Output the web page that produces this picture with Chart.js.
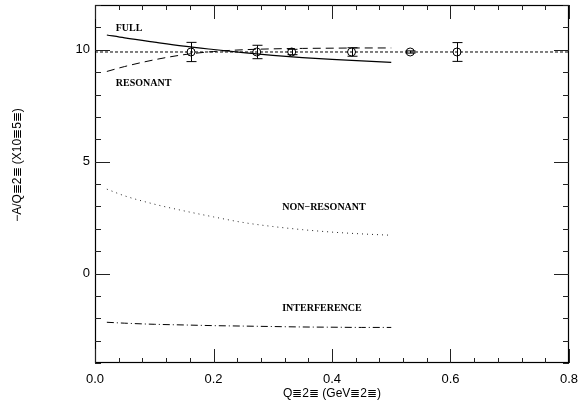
<!DOCTYPE html>
<html><head><meta charset="utf-8">
<script src="https://cdn.jsdelivr.net/npm/chart.js@4/dist/chart.umd.min.js"></script>
<style>html,body{margin:0;padding:0;background:#fff}#wrap{width:579px;height:403px}</style>
</head><body><div id="wrap"><canvas id="c" width="579" height="403"></canvas></div>
<script>
// ---- data ----
const curveQ2 = [0.02, 0.05, 0.10, 0.15, 0.20, 0.25, 0.30, 0.35, 0.40, 0.45, 0.50];
const fullVals = [10.66, 10.53, 10.34, 10.16, 10.01, 9.87, 9.75, 9.65, 9.57, 9.50, 9.44];
const resonantVals = [9.03, 9.25, 9.55, 9.78, 9.92, 10.00, 10.04, 10.06, 10.07, 10.08, 10.08];
const nonResonantVals = [3.77, 3.47, 3.10, 2.80, 2.53, 2.28, 2.10, 1.96, 1.85, 1.77, 1.71];
const interferenceVals = [-2.18, -2.22, -2.27, -2.30, -2.33, -2.35, -2.37, -2.39, -2.40, -2.41, -2.41];
const measQ2 = [0.162, 0.273, 0.332, 0.433, 0.532, 0.611];
const measVals = [9.9, 9.9, 9.9, 9.9, 9.9, 9.9];
const measErr = [0.43, 0.30, 0.12, 0.19, 0.05, 0.42];
const refLevel = [9.9];
const xTicks = [0.0, 0.2, 0.4, 0.6, 0.8];
const yTicks = [0, 5, 10];
const curveLabels = ['FULL', 'RESONANT', 'NON\u2212RESONANT', 'INTERFERENCE'];
const xTitle = 'Q\u22632\u2263 (GeV\u22632\u2263)';
const yTitle = '\u2212A/Q\u22632\u2263 (X10\u22635\u2263)';

const pts = (xs, ys) => xs.map((x, i) => ({x: x, y: ys[i]}));

const framePlugin = {
  id: 'frame',
  afterDatasetsDraw(chart) {
    const ctx = chart.ctx, a = chart.chartArea;
    const xs = chart.scales.x, ys = chart.scales.y;
    ctx.save();
    // error bars
    ctx.strokeStyle = '#000'; ctx.lineWidth = 1;
    measQ2.forEach((q, i) => {
      const px = Math.round(xs.getPixelForValue(q)) + 0.5;
      const top = ys.getPixelForValue(measVals[i] + measErr[i]);
      const bot = ys.getPixelForValue(measVals[i] - measErr[i]);
      ctx.beginPath();
      ctx.moveTo(px, top); ctx.lineTo(px, bot);
      ctx.moveTo(px - 5, top); ctx.lineTo(px + 5, top);
      ctx.moveTo(px - 5, bot); ctx.lineTo(px + 5, bot);
      ctx.stroke();
    });
    // frame
    ctx.strokeStyle = '#000'; ctx.lineWidth = 1.2;
    ctx.strokeRect(a.left + 0.5, a.top + 0.5, a.right - a.left - 1, a.bottom - a.top - 1);
    // ticks
    ctx.lineWidth = 1; ctx.strokeStyle = '#222';
    ctx.beginPath();
    for (let k = 0; k <= 20; k++) {
      const v = k * 0.04;
      const major = xTicks.some(t => Math.abs(t - v) < 1e-6);
      const len = major ? 14 : 5;
      const px = Math.round(xs.getPixelForValue(v)) + 0.5;
      ctx.moveTo(px, a.bottom); ctx.lineTo(px, a.bottom - len);
      ctx.moveTo(px, a.top); ctx.lineTo(px, a.top + len);
    }
    for (let v = Math.ceil(ys.min); v <= ys.max; v++) {
      const major = yTicks.includes(v);
      const len = major ? 15 : 6;
      const py = Math.round(ys.getPixelForValue(v)) + 0.5;
      ctx.moveTo(a.left, py); ctx.lineTo(a.left + len, py);
      ctx.moveTo(a.right, py); ctx.lineTo(a.right - len, py);
    }
    ctx.stroke();
    // curve labels
    ctx.fillStyle = '#000';
    ctx.font = 'bold 10px "Liberation Serif"';
    ctx.textBaseline = 'middle'; ctx.textAlign = 'left';
    const anchors = [[0.035, 10.95], [0.035, 8.48], [0.316, 2.95], [0.316, -1.55]];
    curveLabels.forEach((t, i) => {
      ctx.fillText(t, xs.getPixelForValue(anchors[i][0]), ys.getPixelForValue(anchors[i][1]));
    });
    // axis titles
    ctx.font = '12px "Liberation Sans"';
    ctx.textAlign = 'center';
    ctx.fillText(xTitle, 332, 394);
    ctx.translate(18, 165); ctx.rotate(-Math.PI / 2);
    ctx.fillText(yTitle, 0, 0);
    ctx.restore();
  }
};

new Chart(document.getElementById('c'), {
  type: 'line',
  data: {
    datasets: [
      {label: 'level', data: [{x: 0, y: refLevel[0]}, {x: 0.8, y: refLevel[0]}], borderColor: '#000', borderWidth: 1, borderDash: [3, 2], pointRadius: 0},
      {label: 'FULL', data: pts(curveQ2, fullVals), borderColor: '#000', borderWidth: 1.2, pointRadius: 0, cubicInterpolationMode: 'monotone'},
      {label: 'RESONANT', data: pts(curveQ2, resonantVals), borderColor: '#000', borderWidth: 1, borderDash: [8, 5], pointRadius: 0, cubicInterpolationMode: 'monotone'},
      {label: 'NON-RESONANT', data: pts(curveQ2, nonResonantVals), borderColor: '#222', borderWidth: 1, borderDash: [1, 4], pointRadius: 0, cubicInterpolationMode: 'monotone'},
      {label: 'INTERFERENCE', data: pts(curveQ2, interferenceVals), borderColor: '#000', borderWidth: 1, borderDash: [7, 3, 1, 3], pointRadius: 0, cubicInterpolationMode: 'monotone'},
      {label: 'data', data: pts(measQ2, measVals), showLine: false, pointStyle: 'circle', pointRadius: 4, pointBorderWidth: 1, pointBorderColor: '#000', pointBackgroundColor: 'rgba(0,0,0,0)'}
    ]
  },
  options: {
    responsive: false, animation: false,
    layout: {padding: {top: 4, right: 10, left: 0, bottom: 0}},
    plugins: {legend: {display: false}, tooltip: {enabled: false}},
    scales: {
      x: {type: 'linear', min: 0, max: 0.8,
          grid: {display: false, drawTicks: false}, border: {display: false},
          afterBuildTicks: s => { s.ticks = xTicks.map(v => ({value: v})); },
          afterFit: s => { s.height = 40; s.paddingLeft = 0; s.paddingRight = 0; },
          ticks: {padding: 9, color: '#000', font: {family: 'Liberation Sans', size: 13}, maxRotation: 0, callback: v => Number(v).toFixed(1)}},
      y: {type: 'linear', min: -4, max: 12,
          grid: {display: false, drawTicks: false}, border: {display: false},
          afterBuildTicks: s => { s.ticks = yTicks.map(v => ({value: v})); },
          afterFit: s => { s.width = 95; s.paddingTop = 0; s.paddingBottom = 0; },
          ticks: {padding: 5, color: '#000', font: {family: 'Liberation Sans', size: 13}, callback: v => String(v)}}
    }
  },
  plugins: [framePlugin]
});
</script></body></html>
